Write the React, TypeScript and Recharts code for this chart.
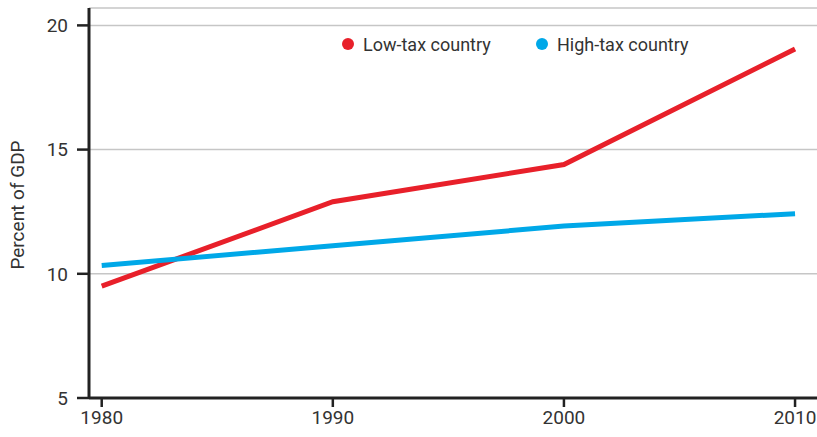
import React from "react";
import { LineChart, Line, XAxis, YAxis, CartesianGrid } from "recharts";

const years = [1980, 1990, 2000, 2010];
const lowTax = [9.5, 12.9, 14.4, 19.05];
const highTax = [10.33, 11.13, 11.92, 12.42];
const yTicks = [5, 10, 15, 20];
const xTicks = [1979.45, 1980, 1990, 2000, 2010];

const RED = "#e8202a";
const BLUE = "#00a8e8";
const FONT = "Roboto, 'Open Sans', sans-serif";

const data = years.map((year, i) => ({ year, low: lowTax[i], high: highTax[i] }));

const legendItems = [
  { name: "Low-tax country", color: RED, x: 0 },
  { name: "High-tax country", color: BLUE, x: 194 },
];

// legend drawn as an overlay so it doesn't eat into the plot height
function ChartLegend() {
  return (
    <svg
      width={400}
      height={30}
      style={{ position: "absolute", left: 342, top: 30, overflow: "visible" }}
    >
      {legendItems.map((it) => (
        <g key={it.name}>
          <circle cx={it.x + 6} cy={14} r={6} fill={it.color} />
          <text x={it.x + 21} y={21} fontSize={18} fill="#333" fontFamily={FONT}>
            {it.name}
          </text>
        </g>
      ))}
    </svg>
  );
}

function YLabel() {
  return (
    <text
      x={24}
      y={205}
      transform="rotate(-90 24 205)"
      textAnchor="middle"
      fontSize={19}
      fill="#333"
      fontFamily={FONT}
    >
      Percent of GDP
    </text>
  );
}

export default function App() {
  return (
    <div style={{ position: "absolute", left: 0, top: 0, width: 817, height: 437, background: "#fff" }}>
      <LineChart width={817} height={437} data={data} margin={{ top: 8, right: 0, left: 0, bottom: 0 }}>
        <CartesianGrid vertical={false} stroke="#c6c6c6" strokeWidth={1.5} />
        <XAxis
          dataKey="year"
          type="number"
          domain={[1979.45, 2010.95]}
          ticks={xTicks}
          tickFormatter={(v) => (Number.isInteger(v) ? String(v) : "")}
          height={39}
          tickSize={9}
          tickMargin={4}
          stroke="#222"
          strokeWidth={3}
          tickLine={{ stroke: "#222", strokeWidth: 2.5 }}
          tick={{ fill: "#333", fontSize: 19, fontFamily: FONT }}
        />
        <YAxis
          type="number"
          domain={[5, 20.7]}
          ticks={yTicks}
          width={89}
          tickSize={12}
          tickMargin={9}
          stroke="#222"
          strokeWidth={3}
          tickLine={{ stroke: "#222", strokeWidth: 2.5 }}
          tick={{ fill: "#333", fontSize: 19, fontFamily: FONT }}
          label={<YLabel />}
        />
        <Line
          dataKey="low"
          stroke={RED}
          strokeWidth={5}
          dot={false}
          isAnimationActive={false}
          name="Low-tax country"
        />
        <Line
          dataKey="high"
          stroke={BLUE}
          strokeWidth={5}
          dot={false}
          isAnimationActive={false}
          name="High-tax country"
        />
      </LineChart>
      <ChartLegend />
    </div>
  );
}
